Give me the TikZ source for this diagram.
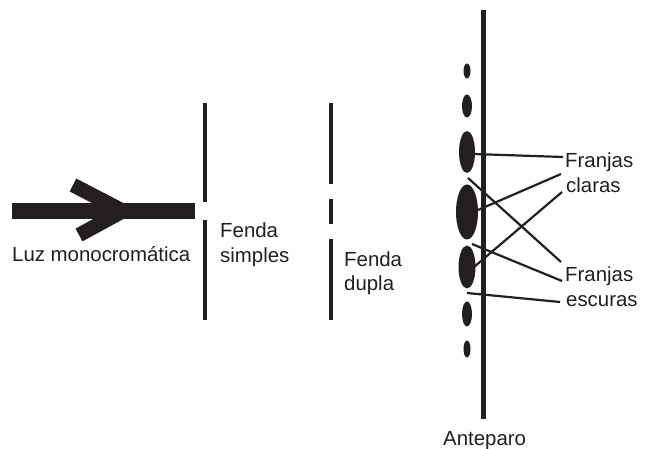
\documentclass[tikz,border=0pt]{standalone}
\usepackage{fontspec}
\setmainfont{Liberation Sans}
\usetikzlibrary{shapes.geometric}
\definecolor{ink}{HTML}{231F20}
\begin{document}
\begin{tikzpicture}[x=1pt,y=-1pt,
  lbl/.style={anchor=base west,inner sep=0pt,text=ink,font=\fontsize{20.4}{24}\selectfont},
  wall/.style={draw=ink,line width=4pt},
  fringe/.style 2 args={ellipse,fill=ink,inner sep=0pt,minimum width=#1,minimum height=#2},
  lead/.style={draw=ink,line width=2.2pt}]
\useasboundingbox[fill=white] (0,0) rectangle (646,449);
% light arrow
\coordinate (sa) at (12,211);
\coordinate (sb) at (195,211);
\coordinate (ha) at (73,185);
\coordinate (hb) at (123,211);
\coordinate (hc) at (79,235);
\draw[ink,line width=16pt] (sa) -- (sb);
\draw[ink,line width=14.5pt,line join=miter] (ha) -- (hb) -- (hc);
\node[lbl] (luz) at (12,262) {Luz monocromática};
% single slit
\coordinate (s1a) at (205,103); \coordinate (s1b) at (205,202);
\coordinate (s2a) at (205,220); \coordinate (s2b) at (205,320);
\draw[wall] (s1a) -- (s1b);
\draw[wall] (s2a) -- (s2b);
\node[lbl] (fs1) at (220,238) {Fenda};
\node[lbl] (fs2) at (220,263) {simples};
% double slit
\coordinate (d1a) at (331,103); \coordinate (d1b) at (331,184);
\coordinate (d2a) at (331,199); \coordinate (d2b) at (331,224);
\coordinate (d3a) at (331,239); \coordinate (d3b) at (331,320);
\draw[wall] (d1a) -- (d1b);
\draw[wall] (d2a) -- (d2b);
\draw[wall] (d3a) -- (d3b);
\node[lbl] (fd1) at (344,267) {Fenda};
\node[lbl] (fd2) at (344,291) {dupla};
% screen
\coordinate (ta) at (483,10); \coordinate (tb) at (483,419);
\draw[draw=ink,line width=5pt] (ta) -- (tb);
\node[lbl] (ant) at (443,446) {Anteparo};
% fringes
\node[fringe={7pt}{15pt}] (e1) at (467,71) {};
\node[fringe={10pt}{23pt}] (e2) at (467,106) {};
\node[fringe={16pt}{42pt}] (e3) at (467,152) {};
\node[fringe={22pt}{55pt}] (e4) at (467,212) {};
\node[fringe={17pt}{43pt}] (e5) at (467,267) {};
\node[fringe={10pt}{25pt}] (e6) at (467,314) {};
\node[fringe={7pt}{17pt}] (e7) at (467,349) {};
% labels
\node[lbl] (fc1) at (565,168) {Franjas};
\node[lbl] (fc2) at (566,193) {claras};
\node[lbl] (fe1) at (565,282) {Franjas};
\node[lbl] (fe2) at (566,307) {escuras};
% leader lines
\coordinate (a1) at (474,154); \coordinate (b1) at (563,157);
\coordinate (a2) at (478,210); \coordinate (b2) at (561,174);
\coordinate (a3) at (474,267); \coordinate (b3) at (562,192);
\coordinate (a4) at (468,178); \coordinate (b4) at (561,262);
\coordinate (a5) at (472,244); \coordinate (b5) at (562,281);
\coordinate (a6) at (467,293); \coordinate (b6) at (560,302);
\draw[lead] (a1) -- (b1);
\draw[lead] (a2) -- (b2);
\draw[lead] (a3) -- (b3);
\draw[lead] (a4) -- (b4);
\draw[lead] (a5) -- (b5);
\draw[lead] (a6) -- (b6);
\end{tikzpicture}
\end{document}
